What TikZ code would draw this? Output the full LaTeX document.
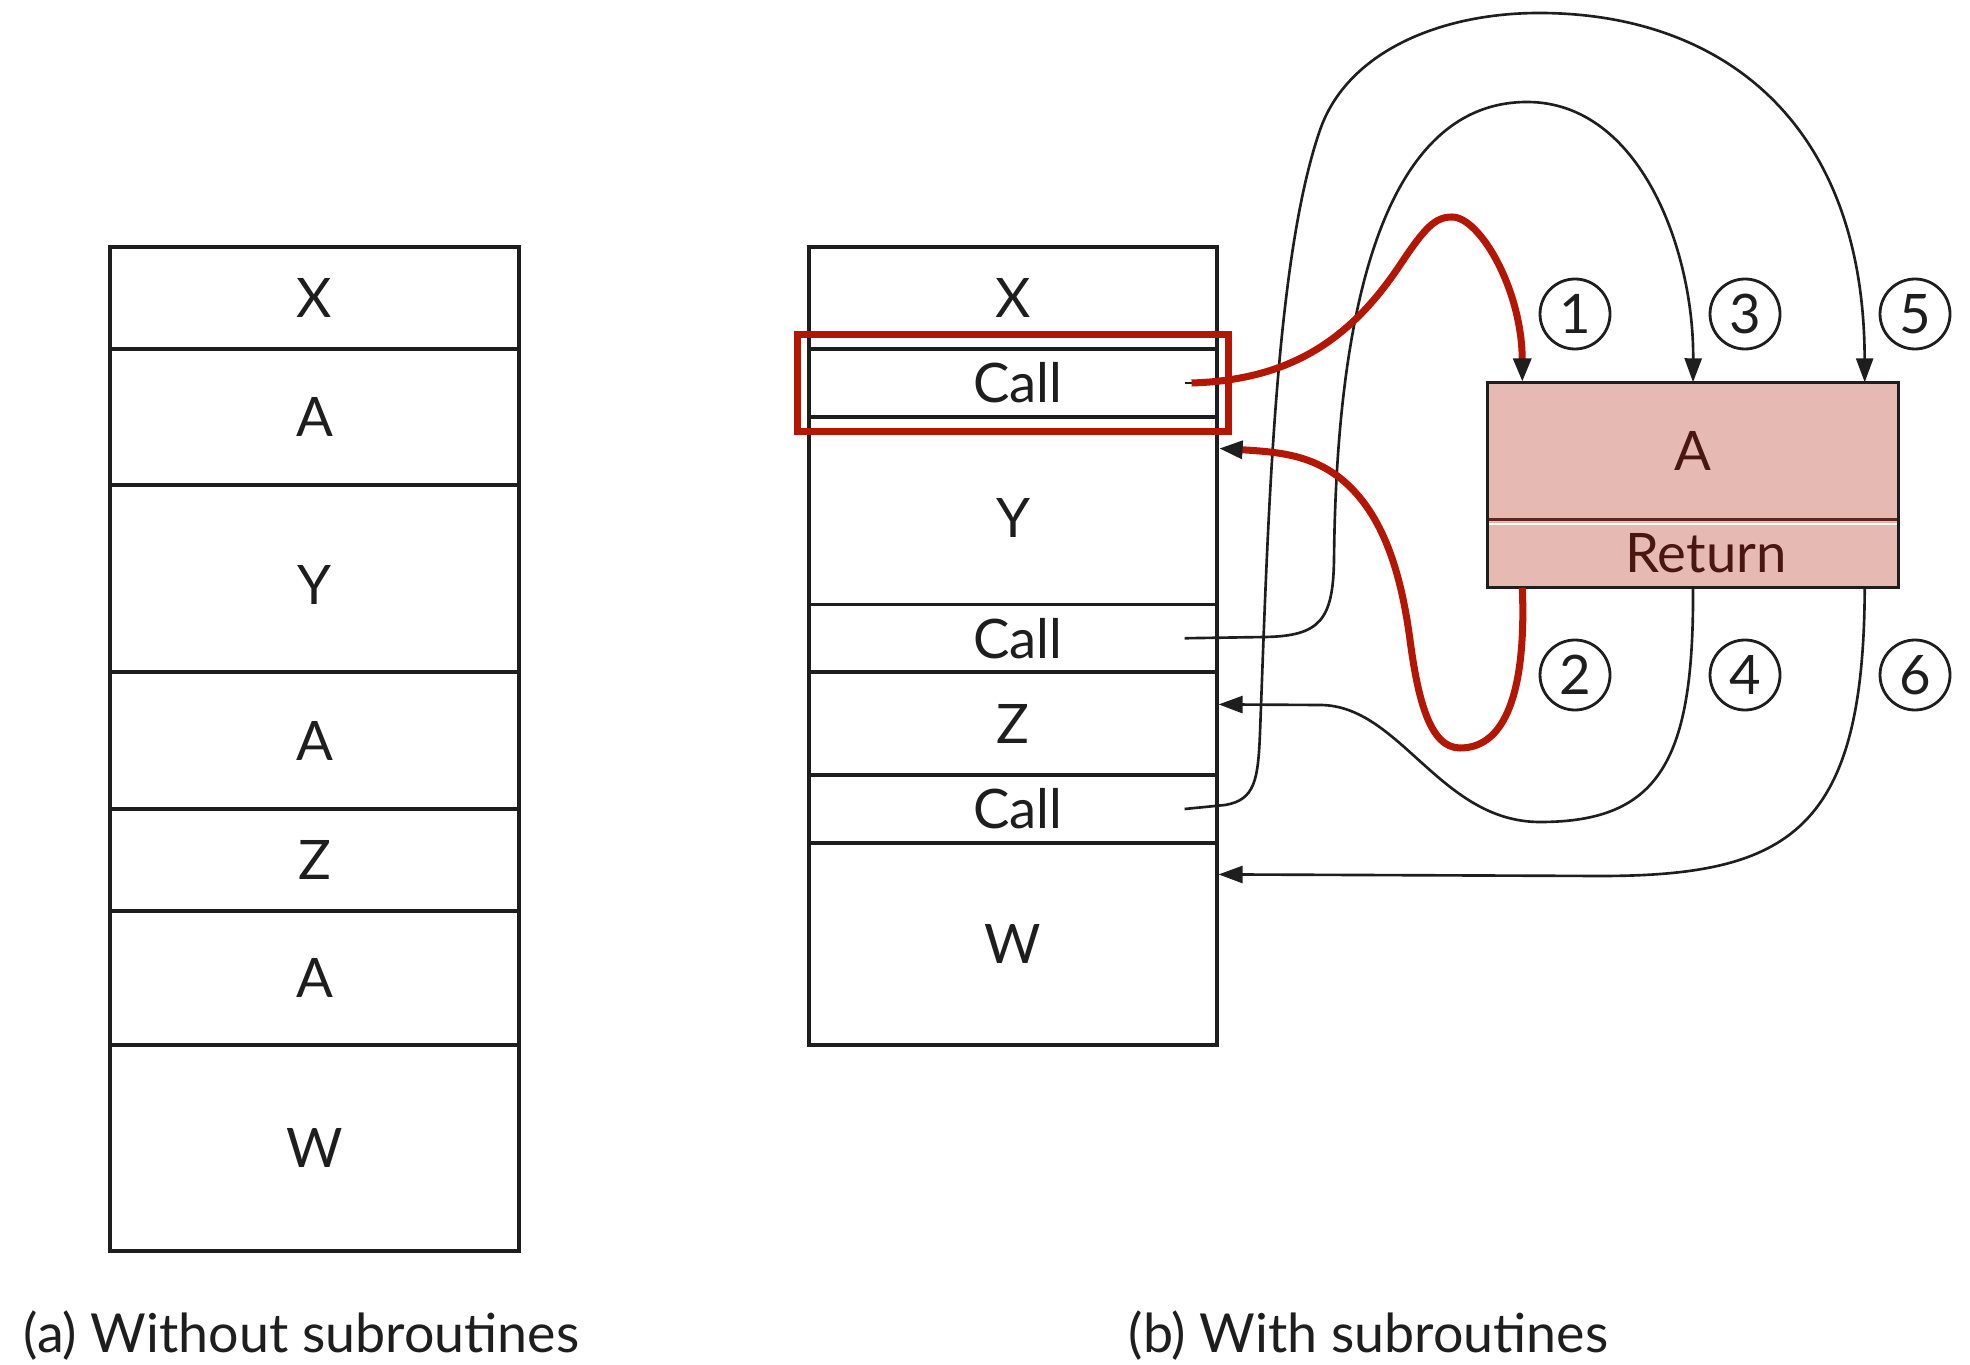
\documentclass[tikz,border=0pt]{standalone}
\usepackage{fontspec}
\setmainfont{Lato}
\usetikzlibrary{arrows.meta,fit}
\definecolor{redline}{RGB}{180,22,4}
\definecolor{subfill}{RGB}{230,185,179}
\definecolor{subtext}{RGB}{74,22,16}
\definecolor{subdiv}{RGB}{100,35,28}
\definecolor{ink}{RGB}{30,30,30}
\newcommand{\lowY}[1]{\raisebox{-#1}[\height][0pt]{Y}}
\begin{document}
\begin{tikzpicture}[x=0.1mm,y=-0.1mm,
  txt/.style={font=\fontsize{15.5}{18}\selectfont, text=ink},
  cellL/.style={txt, draw=ink, line width=0.9pt, minimum width=40.9mm, inner sep=0pt},
  cellM/.style={txt, draw=ink, line width=0.9pt, minimum width=40.8mm, inner sep=0pt},
  subcell/.style={font=\fontsize{15.5}{18}\selectfont, text=subtext, fill=subfill, minimum width=41mm, inner sep=0pt},
  circ/.style={txt, circle, draw=ink, line width=0.8pt, minimum size=7mm, inner sep=0pt},
  conn/.style={draw=ink, line width=0.75pt, -{Triangle[length=2.4mm,width=1.7mm]}},
  redc/.style={draw=redline, line width=2pt, -{Triangle[length=2.4mm,width=1.7mm,color=ink]}},
  caption/.style={font=\fontsize{15.3}{18}\selectfont, text=ink, anchor=base west, inner sep=0pt}]
\useasboundingbox (0,0) rectangle (1970,1365);

% (a) column
\node[cellL, minimum height=10.2mm] (aX)  at (314.5,298)   {X};
\node[cellL, minimum height=13.6mm] (aA1) at (314.5,417)   {A};
\node[cellL, minimum height=18.7mm] (aY)  at (314.5,578.5) {\lowY{0.6mm}};
\node[cellL, minimum height=13.7mm] (aA2) at (314.5,740.5) {A};
\node[cellL, minimum height=10.2mm] (aZ)  at (314.5,860)   {Z};
\node[cellL, minimum height=13.4mm] (aA3) at (314.5,978)   {A};
\node[cellL, minimum height=20.6mm] (aW)  at (314.5,1148)  {W};

% (b) column
\node[cellM, minimum height=10.2mm]  (bX)  at (1013,298)    {X};
\node[cellM, minimum height=6.8mm]   (bC1) at (1013,383)    {\hspace*{1mm}Call};
\node[cellM, minimum height=18.75mm] (bY)  at (1013,510.75) {\lowY{0.75mm}};
\node[cellM, minimum height=6.75mm]  (bC2) at (1013,638.25) {\hspace*{1mm}Call};
\node[cellM, minimum height=10.3mm]  (bZ)  at (1013,723.5)  {Z};
\node[cellM, minimum height=6.8mm]   (bC3) at (1013,809)    {\hspace*{1mm}Call};
\node[cellM, minimum height=20.2mm]  (bW)  at (1013,944)    {W};

% subroutine A
\node[subcell, minimum height=13.6mm] (sA) at (1693,451) {A};
\node[subcell, minimum height=6.8mm]  (sR) at (1693,553) {\hspace*{2.6mm}Return};
\draw[subdiv, line width=0.8pt] (sA.south west) -- (sA.south east);
\draw[white, line width=0.5pt] ([yshift=-0.4mm]sA.south west) -- ([yshift=-0.4mm]sA.south east);
\draw[ink, line width=0.9pt] (sA.north west) rectangle (sR.south east);

% circled numbers
\node[circ] (n1) at (1575,314) {1};
\node[circ] (n3) at (1745,314) {3};
\node[circ] (n5) at (1915,314) {5};
\node[circ] (n2) at (1575,675) {2};
\node[circ] (n4) at (1745,675) {4};
\node[circ] (n6) at (1915,675) {6};

% connector end points
\coordinate (c1s) at ([xshift=-2.7mm]bC1.east);
\coordinate (c1k) at ([xshift=-3.4mm]bC1.east);
\coordinate (c3s) at ([xshift=-3.4mm]bC2.east);
\coordinate (c5s) at ([xshift=-3.4mm]bC3.east);
\coordinate (e1) at ([xshift=3.5mm]sA.north west);
\coordinate (e3) at (sA.north);
\coordinate (e5) at ([xshift=-3.4mm]sA.north east);
\coordinate (s2) at ([xshift=3.5mm]sR.south west);
\coordinate (s4) at (sR.south);
\coordinate (s6) at ([xshift=-3.4mm]sR.south east);
\coordinate (t2) at ([yshift=-3.3mm]bY.north east);
\coordinate (t4) at ([yshift=-3.4mm]bZ.north east);
\coordinate (t6) at ([yshift=-3.3mm]bW.north east);

% black connectors
\draw[conn] (c3s) -- (1265,637) .. controls (1320,636) and (1333,620) .. (1334,560)
  .. controls (1336,350) and (1370,102) .. (1527,102)
  .. controls (1640,102) and (1694,250) .. (e3);
\draw[conn] (c5s) -- (1225,805) .. controls (1255,800) and (1258,780) .. (1260,733)
  .. controls (1268,520) and (1275,260) .. (1320,130)
  .. controls (1347,52) and (1440,13) .. (1539,13)
  .. controls (1720,13) and (1864,120) .. (e5);
\draw[conn] (s4) .. controls (1694,760) and (1660,822) .. (1540,822)
  .. controls (1440,822) and (1400,705) .. (1320,705) -- (t4);
\draw[conn] (s6) .. controls (1864,830) and (1790,876) .. (1600,876) -- (t6);
\draw[ink, line width=0.75pt] (c1k) -- (c1s);

% red highlighted path
\node[draw=redline, line width=0.7mm, fit=(bC1), inner xsep=1mm, inner ysep=1.25mm] (hl) {};
\draw[redc] (c1s) .. controls (1290,380) and (1350,340) .. (1400,265)
  .. controls (1425,227.5) and (1435,217) .. (1452,217)
  .. controls (1480,217) and (1522,290) .. (e1);
\draw[redc] (s2) .. controls (1526,680) and (1510,748) .. (1460,748)
  .. controls (1430,748) and (1418,700) .. (1410,640)
  .. controls (1400,565) and (1380,510) .. (1340,478)
  .. controls (1310,455) and (1280,452) .. (t2);

% captions
\node[caption] (capa) at (23,1352) {(a) Without subroutines};
\node[caption] (capb) at (1128,1352) {(b) With subroutines};
\end{tikzpicture}
\end{document}
